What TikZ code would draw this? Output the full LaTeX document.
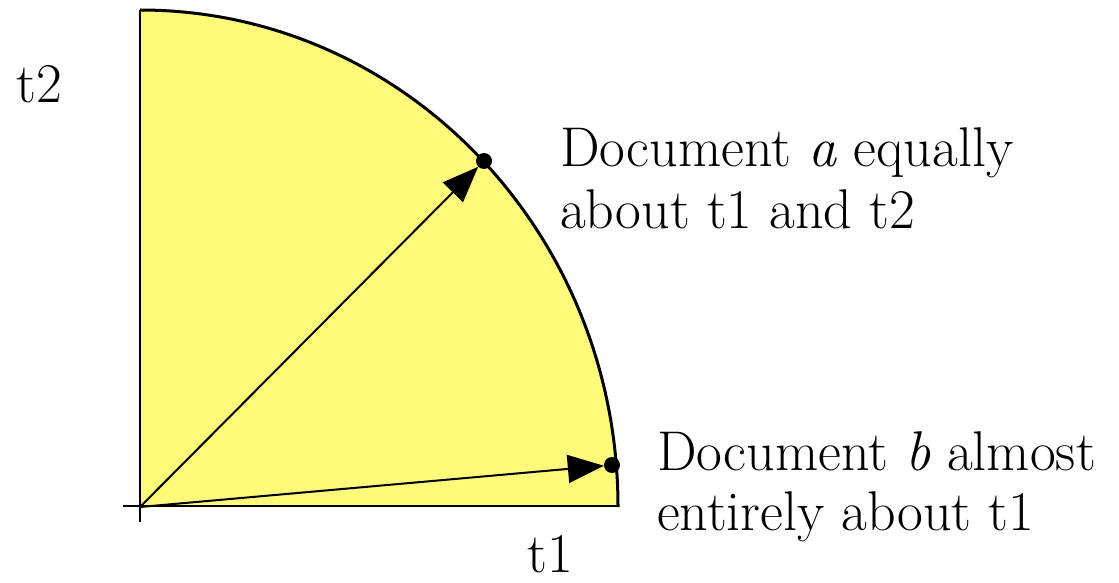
\documentclass[tikz,border=0pt]{standalone}
\usetikzlibrary{arrows.meta}
\definecolor{fillyellow}{RGB}{255,250,122}
\tikzset{
  dot/.style={circle,fill=black,inner sep=0pt,minimum size=16pt},
  vec/.style={line width=2pt,-{Triangle[length=36pt,width=28pt]}},
  axis/.style={line width=2pt},
  lbl/.style={anchor=base west,inner sep=0pt,font=\fontsize{56}{60}\selectfont},
}
\begin{document}
\begin{tikzpicture}[x=1pt,y=-1pt]
\useasboundingbox (0,0) rectangle (1119,583);
\coordinate (o) at (140,507);
\fill[fillyellow] (140,507) -- (140,10) arc[start angle=-90,end angle=0,x radius=478,y radius=497] -- cycle;
\draw[line width=3pt] (140,10) arc[start angle=-90,end angle=0,x radius=478,y radius=497];
\draw[axis] (140,10) -- (140,522);
\draw[axis] (123,506) -- (618,506);
\node[dot] (a) at (484,161) {};
\node[dot] (b) at (612,465) {};
\draw[vec] (o) -- (a);
\draw[vec] (o) -- (b);
\node[lbl] (t2) at (16,103) {t2};
\node[lbl] (t1) at (527,572) {t1};
\node[lbl] (a1) at (560,167) {Document \textit{a} equally};
\node[lbl] (a2) at (560,228) {about t1 and t2};
\node[lbl] (b1) at (657,470) {Document \textit{b} almost};
\node[lbl] (b2) at (657,530) {entirely about t1};
\end{tikzpicture}
\end{document}
